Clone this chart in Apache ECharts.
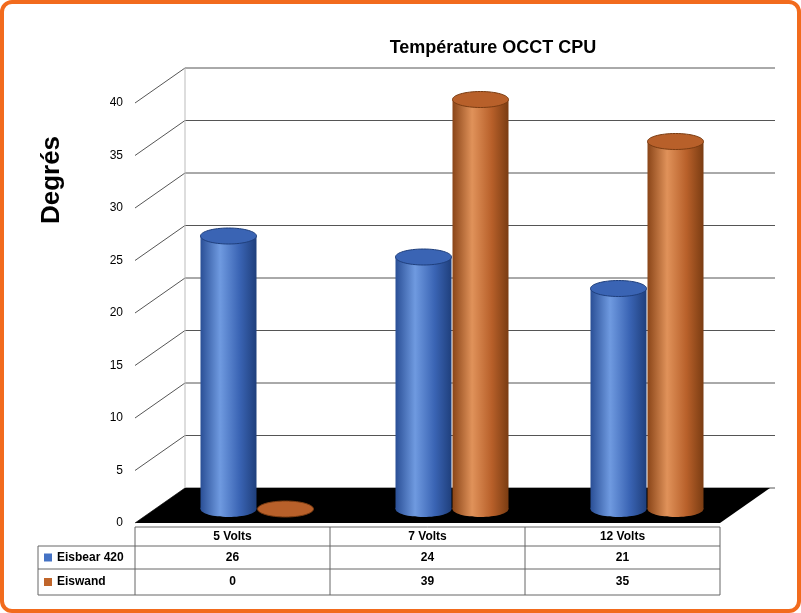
<!DOCTYPE html>
<html>
<head>
<meta charset="utf-8">
<script src="https://cdn.jsdelivr.net/npm/echarts@6/dist/echarts.min.js"></script>
<style>
html,body{margin:0;padding:0;background:#fff;}
#main{width:801px;height:613px;}
</style>
</head>
<body>
<div id="main"></div>
<script>
var categories = ['5 Volts', '7 Volts', '12 Volts'];
var seriesNames = ['Eisbear 420', 'Eiswand'];
var eisbear = [26, 24, 21];
var eiswand = [0, 39, 35];
var yTicks = [0, 5, 10, 15, 20, 25, 30, 35, 40];

var colors = ['#4472c4', '#c0652a'];
var grads = [
	['#2a4f96', '#6f9ae0', '#3a64b4', '#1f3f7c'],
	['#8a4518', '#e0925a', '#b8602a', '#7a3c12']
];

var myChart = echarts.init(document.getElementById('main'));

// bars stand in the middle of the floor depth, so shift them back a bit
var depthY = -14;
function cylinder(idx, offset) {
	return function (params, api) {
		var cx = api.coord([api.value(0), 0])[0] + offset;
		var y0 = api.coord([api.value(0), 0])[1] + depthY;
		var y1 = api.coord([api.value(0), api.value(1)])[1] + depthY;
		var w = 56, eh = 16;
		var g = grads[idx];
		var fill = new echarts.graphic.LinearGradient(0, 0, 1, 0, [
			{offset: 0, color: g[0]}, {offset: 0.35, color: g[1]},
			{offset: 0.7, color: g[2]}, {offset: 1, color: g[3]}
		]);
		var children = [];
		if (y0 - y1 > 1) {
			children.push({type: 'rect', shape: {x: cx - w / 2, y: y1, width: w, height: y0 - y1}, style: {fill: fill}});
			children.push({type: 'ellipse', shape: {cx: cx, cy: y0, rx: w / 2, ry: eh / 2}, style: {fill: fill}});
		}
		children.push({type: 'ellipse', shape: {cx: cx, cy: y1, rx: w / 2, ry: eh / 2}, style: {fill: g[2], stroke: g[3], lineWidth: 1}});
		return {type: 'group', children: children};
	};
}

var option = {
	animation: false,
	title: {
		text: 'Température OCCT CPU', left: 488, top: 34, textAlign: 'center',
		textStyle: {fontFamily: 'Liberation Sans', fontSize: 18, fontWeight: 'bold', color: '#000'}
	},
	grid: {left: 135, right: 81, top: 103, bottom: 90, containLabel: false, outerBoundsMode: 'none'},
	xAxis: {
		type: 'category', data: categories,
		axisLine: {show: false}, axisTick: {show: false}, axisLabel: {show: false}
	},
	yAxis: {
		type: 'value', min: 0, max: 40, interval: 5,
		axisLabel: {color: '#000', fontSize: 12, margin: 12, fontFamily: 'Liberation Sans'},
		splitLine: {show: false}, axisLine: {show: false}, axisTick: {show: false}
	},
	series: [
		{type: 'custom', name: seriesNames[0], renderItem: cylinder(0, -4), data: eisbear.map(function (v, i) { return [i, v]; }), z: 5},
		{type: 'custom', name: seriesNames[1], renderItem: cylinder(1, 53), data: eiswand.map(function (v, i) { return [i, v]; }), z: 4}
	]
};
myChart.setOption(option);

// back wall, side wall, floor and data table
var dx = 50, dy = -35;
var g = [];
g.push({type: 'rect', shape: {x: 2, y: 2, width: 797, height: 609, r: 10}, style: {fill: 'none', stroke: '#f26b1d', lineWidth: 4}, z: 100});
g.push({type: 'text', rotation: Math.PI / 2, x: 52, y: 180, style: {text: 'Degrés', align: 'center', verticalAlign: 'middle', font: 'bold 26px "Liberation Sans"', fill: '#000'}, z: 10});
yTicks.forEach(function (t) {
	var y = myChart.convertToPixel({yAxisIndex: 0}, t);
	g.push({type: 'polyline', shape: {points: [[135, y], [135 + dx, y + dy], [775, y + dy]]}, style: {stroke: '#555', lineWidth: 1}, z: 0});
});
var yTop = myChart.convertToPixel({yAxisIndex: 0}, 40), yBot = myChart.convertToPixel({yAxisIndex: 0}, 0);
g.push({type: 'line', shape: {x1: 135 + dx, y1: yTop + dy, x2: 135 + dx, y2: yBot + dy}, style: {stroke: '#bbb'}, z: 0});
g.push({type: 'polygon', shape: {points: [[135, yBot], [720, yBot], [770, yBot + dy], [185, yBot + dy]]}, style: {fill: '#000'}, z: 1});

var colX = [38, 135, 330, 525, 720];
var rowY = [527, 546, 569, 595];
for (var r = 0; r < rowY.length; r++) {
	g.push({type: 'line', shape: {x1: r === 0 ? 135 : 38, y1: rowY[r], x2: 720, y2: rowY[r]}, style: {stroke: '#666'}, z: 10});
}
colX.forEach(function (x, i) {
	g.push({type: 'line', shape: {x1: x, y1: i === 0 ? rowY[1] : rowY[0], x2: x, y2: rowY[3]}, style: {stroke: '#666'}, z: 10});
});
var font = 'bold 12px "Liberation Sans"';
categories.forEach(function (c, i) {
	var cx = (colX[i + 1] + colX[i + 2]) / 2;
	g.push({type: 'text', style: {text: c, x: cx, y: (rowY[0] + rowY[1]) / 2, align: 'center', verticalAlign: 'middle', font: font, fill: '#000'}, z: 10});
	[eisbear, eiswand].forEach(function (arr, s) {
		g.push({type: 'text', style: {text: String(arr[i]), x: cx, y: (rowY[s + 1] + rowY[s + 2]) / 2, align: 'center', verticalAlign: 'middle', font: font, fill: '#000'}, z: 10});
	});
});
seriesNames.forEach(function (n, s) {
	var cy = (rowY[s + 1] + rowY[s + 2]) / 2;
	g.push({type: 'rect', shape: {x: 44, y: cy - 4, width: 8, height: 8}, style: {fill: colors[s]}, z: 10});
	g.push({type: 'text', style: {text: n, x: 57, y: cy, verticalAlign: 'middle', font: font, fill: '#000'}, z: 10});
});
myChart.setOption({graphic: g});
</script>
</body>
</html>
